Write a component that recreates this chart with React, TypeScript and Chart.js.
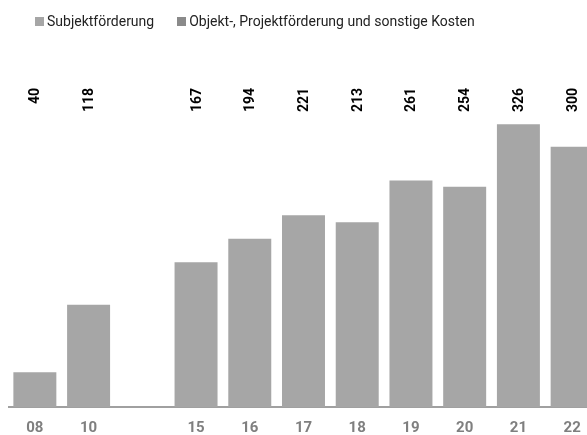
import React, { useEffect, useRef } from "react";
import { Chart, registerables } from "chart.js";

Chart.register(...registerables);

const categories = ["08", "10", "", "15", "16", "17", "18", "19", "20", "21", "22"];
const subjektfoerderung = [40, 118, null, 167, 194, 221, 213, 261, 254, 326, 300];
const objektfoerderung = [0, 0, null, 0, 0, 0, 0, 0, 0, 0, 0];
const seriesLabels = ["Subjektförderung", "Objekt-, Projektförderung und sonstige Kosten"];
const seriesColors = ["#a6a6a6", "#8a8a8a"];

const FONT = "Roboto, 'Liberation Sans', sans-serif";

const totalsPlugin = {
  id: "totals",
  afterDatasetsDraw(chart: any) {
    const { ctx, chartArea } = chart;
    const meta0 = chart.getDatasetMeta(0);
    ctx.save();
    ctx.font = `bold 14px ${FONT}`;
    ctx.fillStyle = "#000";
    ctx.textAlign = "right";
    ctx.textBaseline = "middle";
    categories.forEach((_, i) => {
      let total: number | null = null;
      chart.data.datasets.forEach((ds: any) => {
        const v = ds.data[i];
        if (v !== null && v !== undefined) total = (total ?? 0) + v;
      });
      if (total === null) return;
      const el = meta0.data[i];
      if (!el) return;
      ctx.save();
      ctx.translate(el.x + 1, chartArea.top + 28);
      ctx.rotate(-Math.PI / 2);
      ctx.fillText(String(total), 0, 0);
      ctx.restore();
    });
    ctx.restore();
  },
};

export default function App() {
  const ref = useRef<HTMLCanvasElement | null>(null);
  useEffect(() => {
    document.documentElement.style.overflow = "hidden";
    document.body.style.overflow = "hidden";
    if (!ref.current) return;
    const chart = new Chart(ref.current, {
      type: "bar",
      data: {
        labels: categories,
        datasets: [
          {
            label: seriesLabels[0],
            data: subjektfoerderung,
            backgroundColor: seriesColors[0],
            borderWidth: 0,
          },
          {
            label: seriesLabels[1],
            data: objektfoerderung,
            backgroundColor: seriesColors[1],
            borderWidth: 0,
          },
        ],
      },
      options: {
        responsive: false,
        animation: false,
        layout: { padding: { top: 52, left: 0, right: 0, bottom: 0 } },
        plugins: {
          legend: { display: false },
          tooltip: { enabled: false },
        },
        scales: {
          x: {
            stacked: true,
            grid: { display: false, drawTicks: false, tickLength: 0 },
            border: { display: true, color: "#a0a0a0", width: 2 },
            ticks: {
              color: "#7f7f7f",
              padding: 12,
              font: { family: FONT, size: 15, weight: "bold" },
            },
          },
          y: {
            stacked: true,
            display: false,
            min: 0,
            max: 400,
          },
        },
        datasets: {
          bar: { categoryPercentage: 0.8, barPercentage: 1.0 },
        },
      } as any,
      plugins: [totalsPlugin],
    });
    return () => chart.destroy();
  }, []);

  return (
    <div
      style={{
        position: "fixed",
        top: 0,
        left: 0,
        width: 587,
        height: 435,
        overflow: "hidden",
        background: "#fff",
      }}
    >
      <div
        style={{
          position: "absolute",
          top: 13,
          left: 35,
          display: "flex",
          alignItems: "center",
          fontFamily: FONT,
          fontSize: 14,
          color: "#222",
          whiteSpace: "nowrap",
          zIndex: 1,
        }}
      >
        {seriesLabels.map((lab, i) => (
          <div key={lab} style={{ display: "flex", alignItems: "center", marginRight: 23 }}>
            <span
              style={{
                display: "inline-block",
                width: 9,
                height: 9,
                background: seriesColors[i],
                marginRight: 3,
              }}
            />
            <span>{lab}</span>
          </div>
        ))}
      </div>
      <canvas ref={ref} width={591} height={441} style={{ position: "absolute", top: 8, left: 8 }} />
    </div>
  );
}
